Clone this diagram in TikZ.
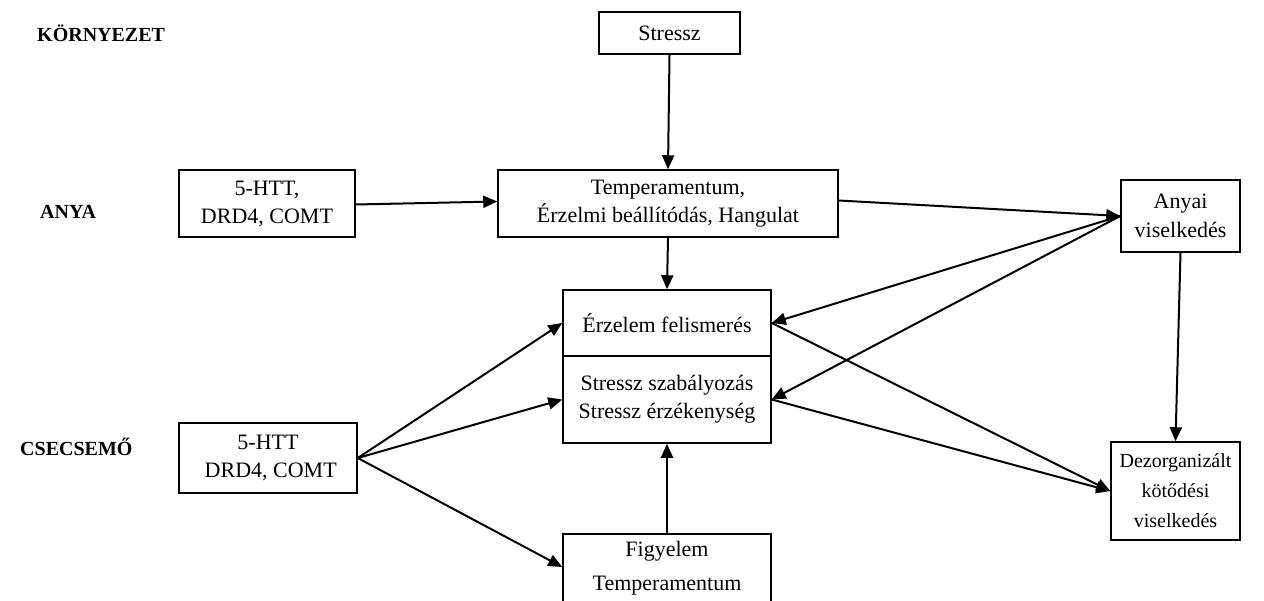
\documentclass[tikz,border=0pt]{standalone}
\usepackage{fontspec}
\setmainfont{Liberation Serif}
\usetikzlibrary{arrows.meta,calc}
\begin{document}
\begin{tikzpicture}[x=1pt,y=-1pt,
  box/.style={draw,line width=1.5pt,inner sep=0pt,align=center,font=\fontsize{22}{28}\selectfont},
  arr/.style={line width=2pt,-{Triangle[length=14pt,width=12pt]}},
  lbl/.style={font=\fontsize{20}{24}\selectfont\bfseries,anchor=west,inner sep=0pt}]
\useasboundingbox (0,0) rectangle (1264,601);
\clip (0,0) rectangle (1264,601);
% row labels
\node[lbl] (kor) at (37,33) {KÖRNYEZET};
\node[lbl] (anya) at (40,212) {ANYA};
\node[lbl] (csec) at (20,447) {CSECSEMŐ};
% boxes
\node[box,minimum width=141pt,minimum height=42pt] (stressz) at (669.5,33) {Stressz};
\node[box,minimum width=176pt,minimum height=67pt] (gm) at (267,203.5) {5-HTT,\\DRD4, COMT};
\node[box,minimum width=340pt,minimum height=67pt] (temp) at (668,203.5) {Temperamentum,\\Érzelmi beállítódás, Hangulat};
\node[box,minimum width=119pt,minimum height=72pt,font=\fontsize{22}{29}\selectfont] (anyai) at (1180.5,216) {Anyai\\viselkedés};
\node[box,minimum width=208pt,minimum height=66pt] (erz) at (667,323) {Érzelem felismerés};
\node[box,minimum width=208pt,minimum height=87pt] (ssz) at (667,399.5) {Stressz szabályozás\\Stressz érzékenység};
\node[box,minimum width=178pt,minimum height=70pt] (gi) at (268,458) {5-HTT\\\ DRD4, COMT};
\node[box,minimum width=208pt,minimum height=90pt,anchor=north] (figy) at (667,533) {};
\node[anchor=north,align=center,inner sep=0pt,font=\fontsize{22}{34}\selectfont] (figyt) at (667,541) {Figyelem\\Temperamentum};
\node[box,minimum width=129pt,minimum height=98pt,font=\fontsize{20}{30}\selectfont] (dez) at (1175.5,491) {Dezorganizált\\kötődési\\viselkedés};
\coordinate (figyL) at ($(figy.north west)+(0,34)$);
% connectors
\draw[arr] (stressz.south) -- (temp.north);
\draw[arr] ($(gm.east)+(0,1)$) -- ($(temp.west)+(0,-2)$);
\draw[arr] ($(temp.east)+(0,-3)$) -- (anyai.west);
\draw[arr] (temp.south) -- (erz.north);
\draw[arr] (anyai.west) -- (erz.east);
\draw[arr] (anyai.west) -- (ssz.east);
\draw[arr] (erz.east) -- (dez.west);
\draw[arr] (ssz.east) -- (dez.west);
\draw[arr] (anyai.south) -- (dez.north);
\draw[arr] (gi.east) -- (erz.west);
\draw[arr] (gi.east) -- (ssz.west);
\draw[arr] (gi.east) -- (figyL);
\draw[arr] (figy.north) -- (ssz.south);
\end{tikzpicture}
\end{document}
